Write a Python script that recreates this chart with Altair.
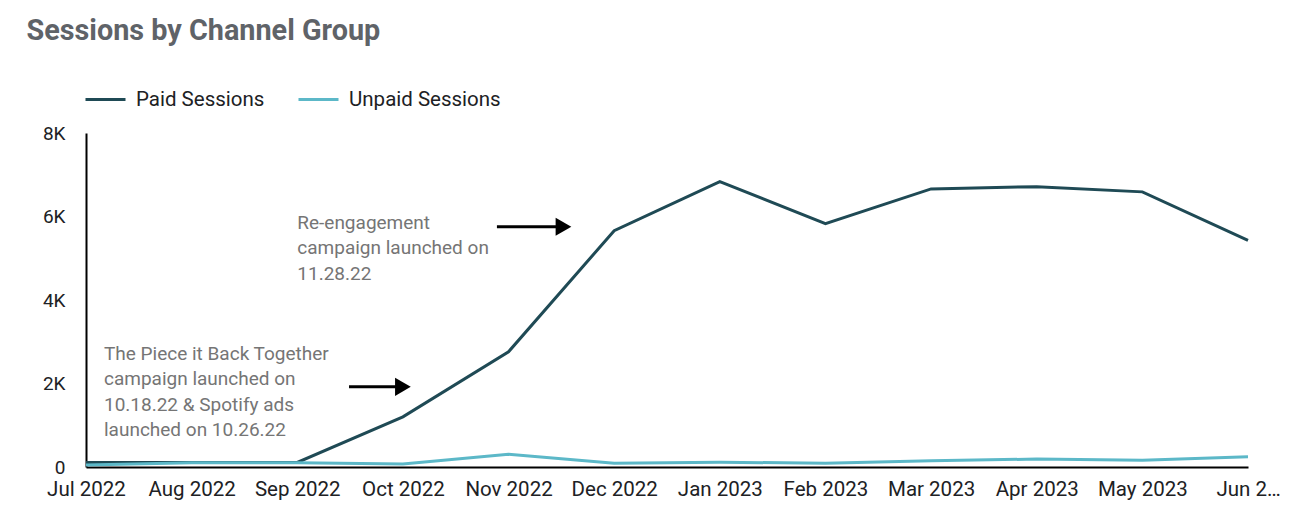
import altair as alt
import pandas as pd

months = ["Jul 2022", "Aug 2022", "Sep 2022", "Oct 2022", "Nov 2022", "Dec 2022",
          "Jan 2023", "Feb 2023", "Mar 2023", "Apr 2023", "May 2023", "Jun 2023"]
paid = [110, 110, 110, 1200, 2760, 5660, 6835, 5830, 6660, 6715, 6590, 5430]
unpaid = [50, 100, 100, 70, 305, 90, 115, 90, 150, 190, 160, 245]
series_names = ["Paid Sessions", "Unpaid Sessions"]
series_colors = ["#1f4a55", "#5cb8c8"]

notes = [
    "The Piece it Back Together\ncampaign launched on\n10.18.22 & Spotify ads\nlaunched on 10.26.22",
    "Re-engagement\ncampaign launched on\n11.28.22",
]
note_x = [0.17, 2.0]
note_y = [2930, 6070]
arrow_x1 = [2.49, 3.89]
arrow_x2 = [2.95, 4.46]
arrow_head = [3.0, 4.52]
arrow_y = [1920, 5755]

rows = []
for i, m in enumerate(months):
    rows.append({"idx": i, "month": m, "series": series_names[0], "value": paid[i]})
    rows.append({"idx": i, "month": m, "series": series_names[1], "value": unpaid[i]})
df = pd.DataFrame(rows)

notes_df = pd.DataFrame({"x": note_x, "y": note_y, "text": notes})
arrows_df = pd.DataFrame({"x1": arrow_x1, "x2": arrow_x2, "xh": arrow_head, "y": arrow_y})

label_array = "[" + ",".join("'" + m + "'" for m in months) + "]"
x_label_expr = f"datum.value == 11 ? 'Jun 2…' : {label_array}[datum.value]"

x_scale = alt.Scale(domain=[0, 11], nice=False, zero=False)
y_scale = alt.Scale(domain=[0, 8000], nice=False)

FONT = "Roboto"

lines = alt.Chart(df).mark_line(strokeWidth=3).encode(
    x=alt.X("idx:Q", scale=x_scale,
            axis=alt.Axis(values=list(range(12)), labelExpr=x_label_expr, title=None,
                          labelPadding=12, labelFlush=False, labelFontSize=20.5)),
    y=alt.Y("value:Q", scale=y_scale,
            axis=alt.Axis(values=[0, 2000, 4000, 6000, 8000],
                          labelExpr="datum.value == 0 ? '0' : (datum.value / 1000) + 'K'",
                          title=None, labelPadding=21, labelFontSize=19)),
    color=alt.Color("series:N",
                    scale=alt.Scale(domain=series_names, range=series_colors),
                    legend=alt.Legend(title=None, orient="none", legendX=-2, legendY=-55,
                                      direction="horizontal", symbolType="stroke",
                                      symbolSize=1600, symbolStrokeWidth=3,
                                      labelFontSize=20.5, labelFont=FONT, labelColor="#202124",
                                      columnPadding=27, labelOffset=9)),
    order=alt.Order("idx:Q"),
)

texts = alt.Chart(notes_df).mark_text(
    align="left", baseline="top", fontSize=19, font=FONT, color="#757575",
    lineBreak="\n", lineHeight=25.5,
).encode(x="x:Q", y="y:Q", text="text:N")

shafts = alt.Chart(arrows_df).mark_rule(color="black", strokeWidth=3).encode(
    x="x1:Q", x2="x2:Q", y="y:Q")

heads = alt.Chart(arrows_df).mark_point(
    shape="triangle-right", filled=True, color="black", size=330, opacity=1
).encode(x="xh:Q", y="y:Q")

chart = alt.layer(lines, texts, shafts, heads).properties(
    width=1162, height=334,
    background="white",
    title=alt.TitleParams("Sessions by Channel Group", anchor="start", fontSize=28.8,
                          fontWeight="bold", color="#5f6368", font=FONT, dx=-16, offset=32),
    autosize=alt.AutoSizeParams(type="none"),
    padding={"left": 78, "top": 125, "right": 43, "bottom": 42},
).configure_view(stroke=None).configure_axis(
    grid=False, ticks=False, domainColor="black", domainWidth=2,
    labelFont=FONT, labelColor="#202124",
)

chart.save("out.html", embed_options={"renderer": "svg", "actions": False})
